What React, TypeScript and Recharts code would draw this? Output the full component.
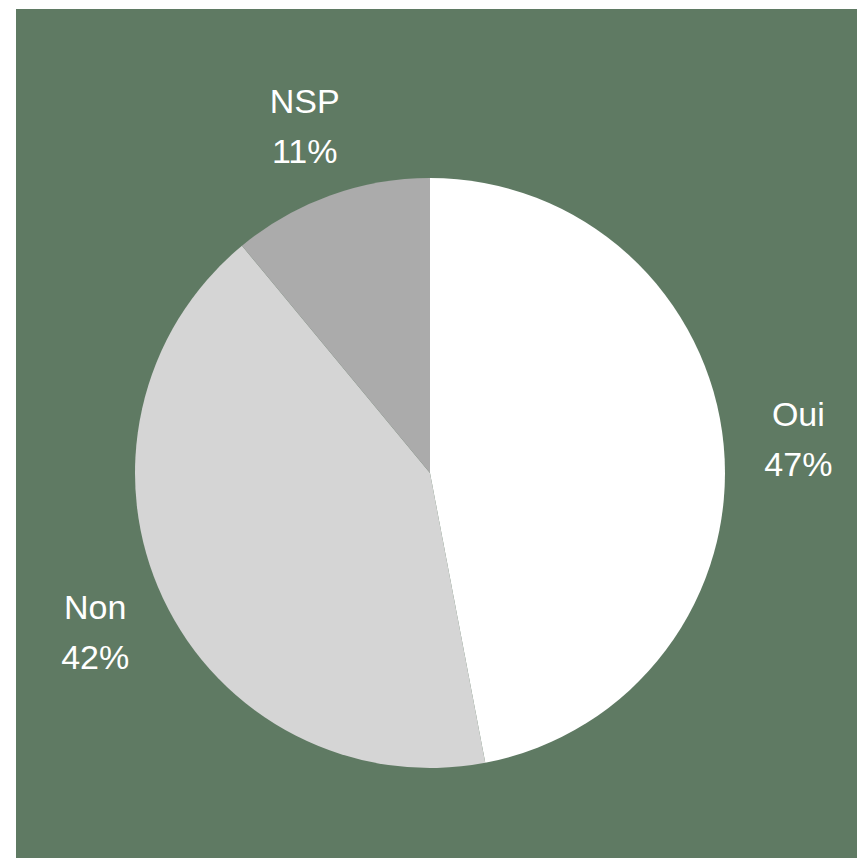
import React from "react";
import { PieChart, Pie, Cell } from "recharts";

const categories = ["Oui", "Non", "NSP"];
const values = [47, 42, 11];
const colors = ["#ffffff", "#d5d5d5", "#ababab"];

const data = categories.map((name, i) => ({ name, value: values[i] }));

const RADIAN = Math.PI / 180;

const renderLabel = (props: any) => {
  const { cx, cy, midAngle, name, value } = props;
  const r = 370;
  const x = cx + r * Math.cos(-midAngle * RADIAN);
  const y = cy + r * Math.sin(-midAngle * RADIAN);
  return (
    <text
      x={x}
      y={y}
      textAnchor="middle"
      fill="#ffffff"
      fontFamily="'Liberation Sans', Arial, sans-serif"
      fontSize={34}
    >
      <tspan x={x} y={y - 12}>{name}</tspan>
      <tspan x={x} y={y + 38}>{`${value}%`}</tspan>
    </text>
  );
};

export default function App() {
  return (
    <div style={{ position: "relative", left: 8, top: 1, width: 849, height: 850, background: "#5f7a63" }}>
      <PieChart width={849} height={850} margin={{ top: 0, right: 0, bottom: 0, left: 0 }}>
        <Pie
          data={data}
          dataKey="value"
          nameKey="name"
          cx={414}
          cy={464}
          outerRadius={295}
          startAngle={90}
          endAngle={-270}
          stroke="none"
          label={renderLabel}
          labelLine={false}
          isAnimationActive={false}
        >
          {data.map((d, i) => (
            <Cell key={d.name} fill={colors[i]} />
          ))}
        </Pie>
      </PieChart>
    </div>
  );
}
